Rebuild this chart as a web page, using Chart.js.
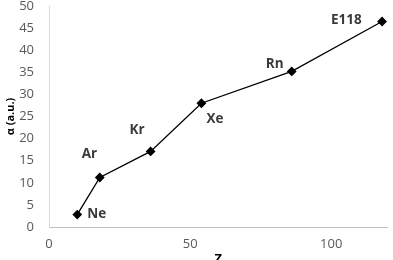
<!DOCTYPE html>
<html>
<head>
<meta charset="utf-8">
<script src="https://cdn.jsdelivr.net/npm/chart.js@4"></script>
<style>
  html, body { margin: 0; padding: 0; background: #fff; }
  #wrap { width: 393px; height: 260px; }
</style>
</head>
<body>
<div id="wrap"><canvas id="chart"></canvas></div>
<script>
const elements = ["Ne", "Ar", "Kr", "Xe", "Rn", "E118"];
const zValues = [10, 18, 36, 54, 86, 118];
const alphaValues = [2.8, 11.2, 17.1, 28, 35.2, 46.5];
const xTicks = [0, 50, 100];

// where each name sits relative to its marker
const labelOffsets = [[10, 0], [-18, -23], [-21, -21], [5, 16], [-26, -7], [-51, -1]];

const pointLabels = {
  id: "pointLabels",
  afterDatasetsDraw(chart) {
    const ctx = chart.ctx;
    const meta = chart.getDatasetMeta(0);
    ctx.save();
    ctx.font = "bold 13.5px 'Open Sans', 'DejaVu Sans', sans-serif";
    ctx.fillStyle = "#3a3a3a";
    ctx.textBaseline = "middle";
    ctx.textAlign = "left";
    meta.data.forEach((pt, i) => {
      const off = labelOffsets[i];
      ctx.fillText(elements[i], pt.x + off[0], pt.y + off[1]);
    });
    ctx.restore();
  }
};

const tickFont = { family: "'Open Sans', 'DejaVu Sans', sans-serif", size: 13 };

new Chart(document.getElementById("chart"), {
  type: "scatter",
  data: {
    datasets: [{
      data: zValues.map((z, i) => ({ x: z, y: alphaValues[i] })),
      showLine: true,
      borderColor: "#000",
      borderWidth: 1.3,
      pointStyle: "rectRot",
      pointRadius: 4,
      pointBackgroundColor: "#000",
      pointBorderColor: "#000",
      tension: 0
    }]
  },
  options: {
    responsive: true,
    maintainAspectRatio: false,
    animation: false,
    layout: { padding: { top: 6, right: 1 } },
    plugins: { legend: { display: false }, tooltip: { enabled: false } },
    scales: {
      x: {
        type: "linear",
        min: 0,
        max: 120,
        afterBuildTicks(scale) { scale.ticks = xTicks.map(v => ({ value: v })); },
        ticks: { color: "#595959", font: tickFont, padding: 9 },
        grid: { display: false, drawTicks: false },
        border: { color: "#bfbfbf" },
        title: {
          display: true,
          text: "Z",
          color: "#000",
          font: { family: "'Open Sans', 'DejaVu Sans', sans-serif", size: 13, weight: "bold" },
          padding: { top: 2, bottom: -7 }
        },
        afterFit(scale) { scale.height = 33; scale.paddingRight = 0; }
      },
      y: {
        min: 0,
        max: 50,
        ticks: { stepSize: 5, color: "#595959", font: tickFont, padding: 15 },
        grid: { display: false, drawTicks: false },
        border: { color: "#d9d9d9" },
        title: {
          display: true,
          text: "α (a.u.)",
          color: "#000",
          font: { family: "'Open Sans', 'DejaVu Sans', sans-serif", size: 11, weight: "bold" },
          padding: { bottom: 0 }
        },
        afterFit(scale) { scale.width = 49; scale.paddingTop = 0; }
      }
    }
  },
  plugins: [pointLabels]
});
</script>
</body>
</html>
